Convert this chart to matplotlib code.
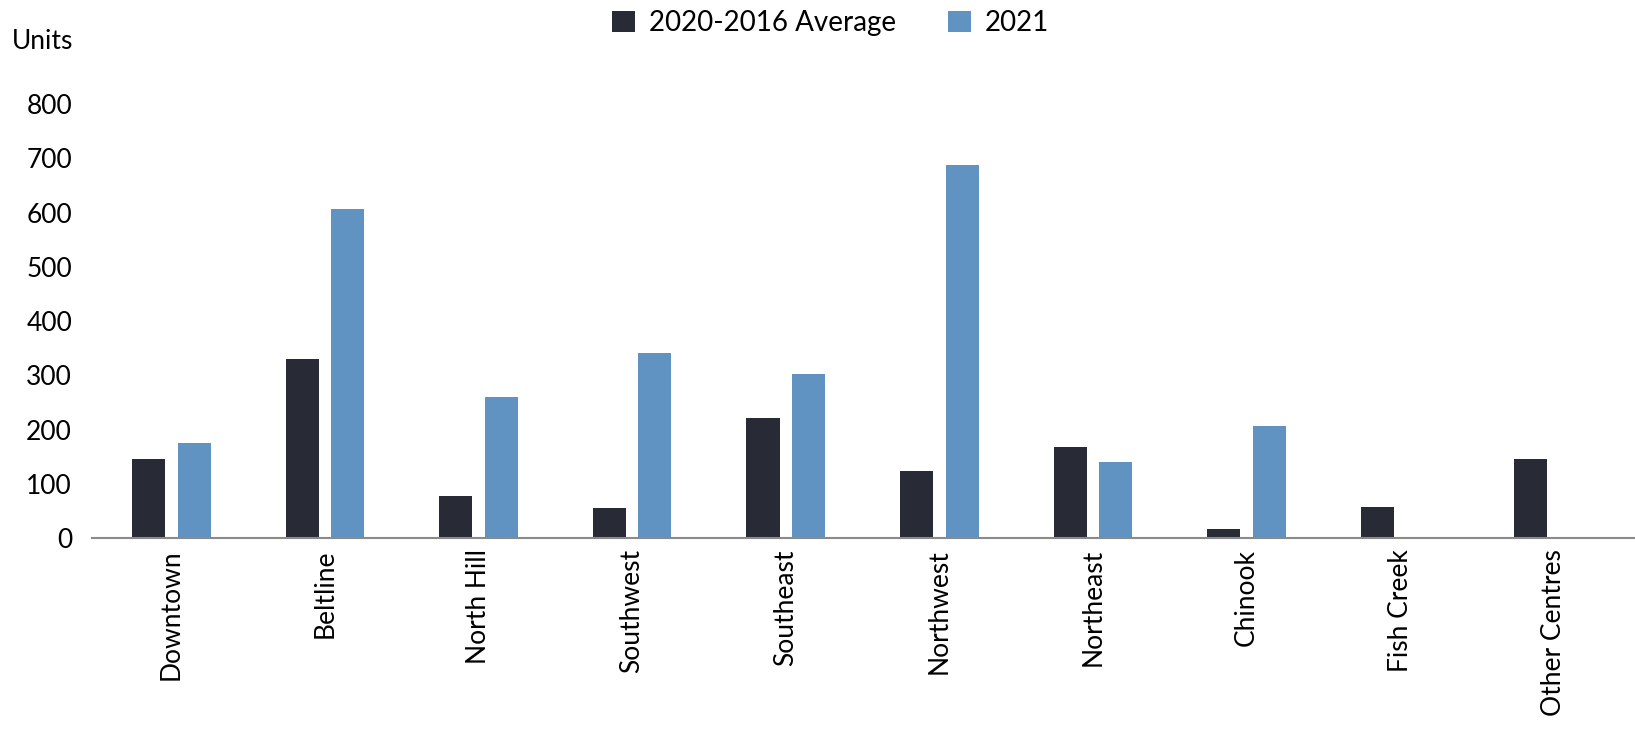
import numpy as np
import matplotlib
matplotlib.use("Agg")
from matplotlib import pyplot as plt

# === DATA ===
centres = ["Downtown", "Beltline", "North Hill", "Southwest", "Southeast",
           "Northwest", "Northeast", "Chinook", "Fish Creek", "Other Centres"]
avg_2016_2020 = [146, 331, 77, 56, 221, 123, 167, 17, 58, 146]
units_2021 = [175, 606, 260, 342, 302, 688, 140, 206, 0, 0]
yticks = [0, 100, 200, 300, 400, 500, 600, 700, 800]

# === STYLE ===
plt.rcParams['font.family'] = ['Lato', 'DejaVu Sans']
dark = "#282a35"
blue = "#6093c1"

fig = plt.figure(figsize=(16.35, 7.34), dpi=100)
ax = fig.add_axes([0.056, 0.267, 0.944, 0.591])

x = np.arange(len(centres))
w = 0.215
ax.bar(x - 0.148, avg_2016_2020, w, color=dark, label="2020-2016 Average")
ax.bar(x + 0.148, units_2021, w, color=blue, label="2021")

ax.set_xlim(-0.52, 9.53)
ax.set_ylim(0, 800)
ax.set_yticks(yticks)
ax.set_yticklabels([str(t) for t in yticks], fontsize=19)
ax.set_xticks(x)
ax.set_xticklabels(centres, rotation=90, fontsize=19, va="top", ha="center")
ax.tick_params(axis="both", length=0, pad=8)
ax.tick_params(axis="y", pad=14)

for s in ["top", "right", "left"]:
    ax.spines[s].set_visible(False)
ax.spines["bottom"].set_color("#8a8a8a")
ax.spines["bottom"].set_linewidth(1.5)

fig.text(0.007, 0.943, "Units", fontsize=19, va="center", ha="left")

fig.legend(loc="center", bbox_to_anchor=(0.508, 0.968), ncol=2, frameon=False,
           fontsize=20, handlelength=0.8, handleheight=0.8, columnspacing=1.9,
           handletextpad=0.5)

fig.savefig("out.png", dpi=100, facecolor="white")
